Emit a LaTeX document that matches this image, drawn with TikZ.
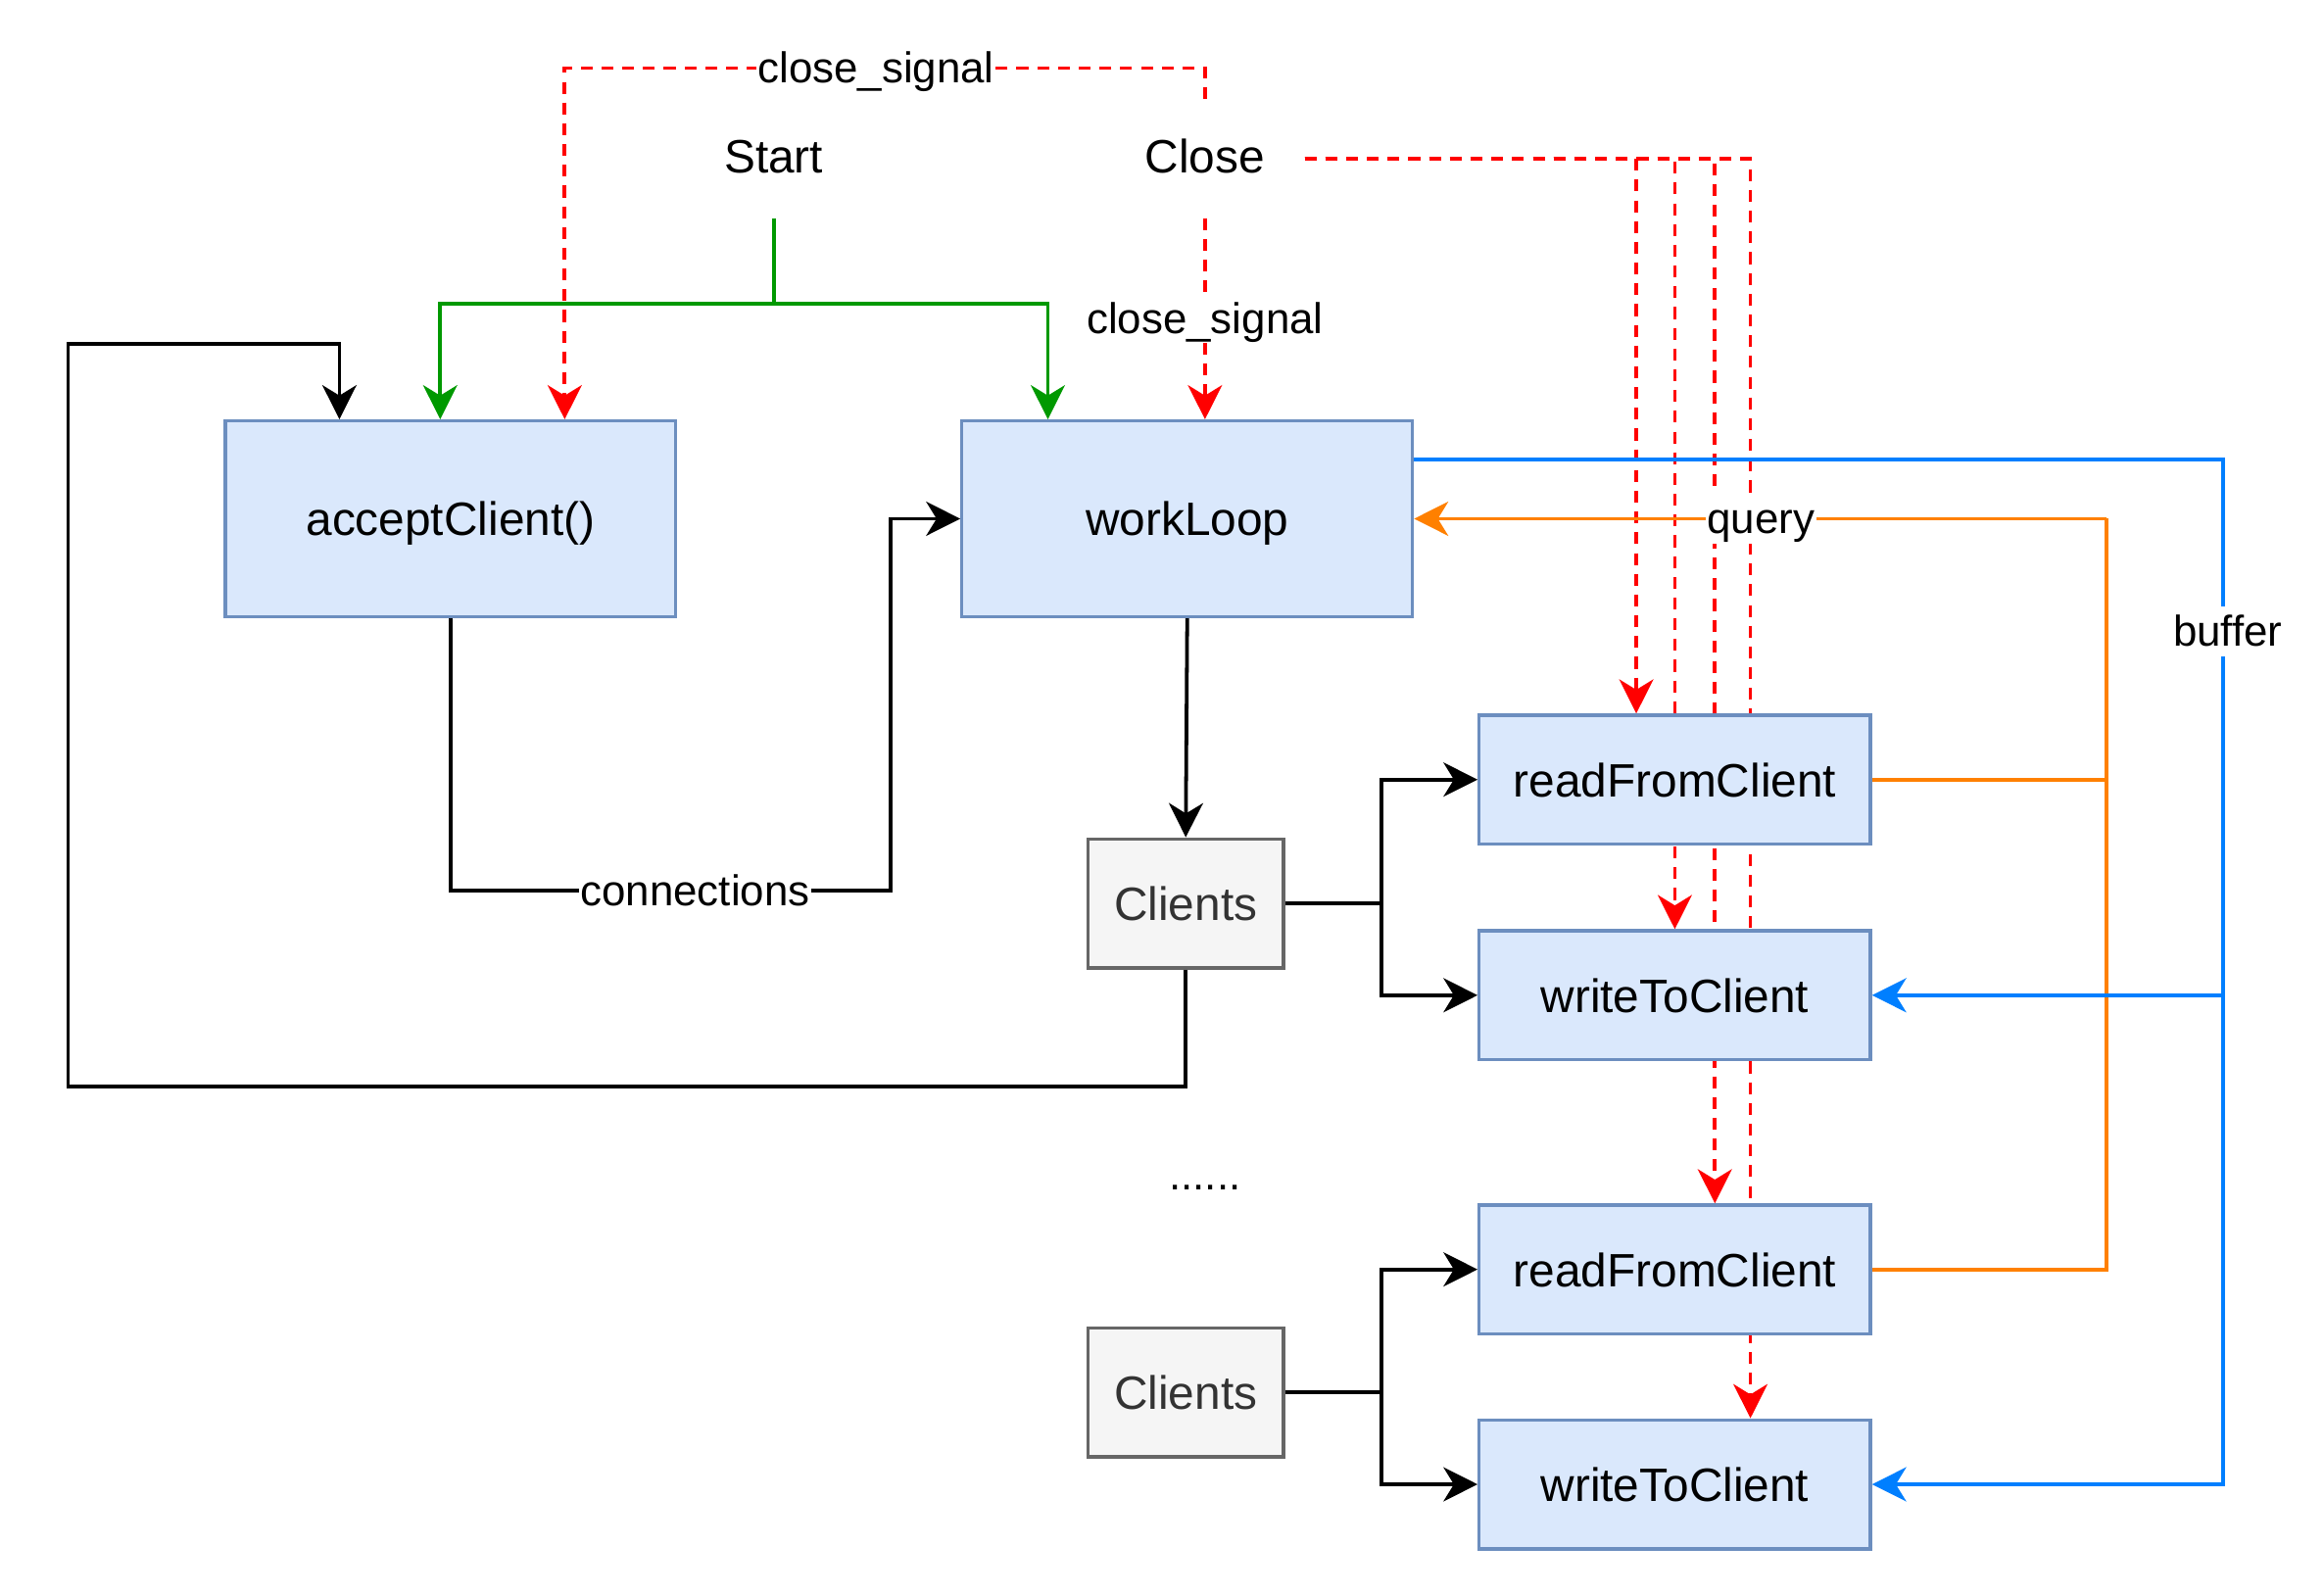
\documentclass[tikz,border=0pt]{standalone}
\usepackage{fontspec}
\setmainfont{Liberation Sans}
\usetikzlibrary{arrows.meta,calc}
\pgfdeclarelayer{bg}
\pgfsetlayers{bg,main}
\definecolor{boxfill}{HTML}{DAE8FC}
\definecolor{boxline}{HTML}{6C8EBF}
\definecolor{grayfill}{HTML}{F5F5F5}
\definecolor{grayline}{HTML}{666666}
\definecolor{graytext}{HTML}{333333}
\definecolor{sgreen}{HTML}{009900}
\definecolor{sred}{HTML}{FF0000}
\definecolor{sorange}{HTML}{FF8000}
\definecolor{sblue}{HTML}{007FFF}
\begin{document}
\begin{tikzpicture}[x=1pt,y=-1pt,
  tip/.style={-{Stealth[length=23pt,width=23pt,inset=7pt]}},
  conn/.style={line width=2.5pt},
  gline/.style={conn,draw=sgreen,color=sgreen},
  rdash/.style={conn,draw=sred,color=sred,dash pattern=on 8pt off 6pt},
  oline/.style={conn,draw=sorange,color=sorange},
  bline/.style={conn,draw=sblue,color=sblue},
  kline/.style={conn,draw=black},
  nodefont/.style={font=\fontsize{31.6}{38}\selectfont,text height=23pt,text depth=0pt},
  bigbox/.style={nodefont,draw=boxline,fill=boxfill,line width=2.2pt,minimum width=304pt,minimum height=132pt,inner sep=0pt},
  smallbox/.style={nodefont,draw=boxline,fill=boxfill,line width=2.2pt,minimum width=264pt,minimum height=87pt,inner sep=0pt},
  graybox/.style={nodefont,draw=grayline,fill=grayfill,text=graytext,line width=2.2pt,minimum width=132pt,minimum height=87pt,inner sep=0pt},
  txt/.style={nodefont,minimum width=134pt,minimum height=84pt,inner sep=0pt},
  lbl/.style={fill=white,inner sep=1pt,text height=25.5pt,text depth=5.8pt,font=\fontsize{29}{34}\selectfont},
  plainlbl/.style={inner sep=1pt,font=\fontsize{29}{34}\selectfont}]
\useasboundingbox (0,0) rectangle (1568,1076);

% nodes
\node[bigbox] (acc) at (304,350) {acceptClient()};
\node[bigbox] (wl) at (801,350) {workLoop};
\node[smallbox] (r1) at (1130,526) {readFromClient};
\node[smallbox] (w1) at (1130,671.5) {writeToClient};
\node[smallbox] (r2) at (1130,856.5) {readFromClient};
\node[smallbox] (w2) at (1130,1001.5) {writeToClient};
\node[graybox] (c1) at (800,609.5) {Clients};
\node[graybox] (c2) at (800,939.5) {Clients};
\node[txt] (start) at (522,105) {Start};
\node[txt] (close) at (813,105) {Close};
\node[plainlbl] (dots) at (813,801) {......};

% routing coordinates
\coordinate (gsplit) at (522,205);
\coordinate (rtop) at (813,46);
\coordinate (oq) at (1421,350);
\coordinate (bx) at (1500,0);
\coordinate (bstart) at ($(wl.north east)+(0,27)$);
\coordinate (sx) at (932,0);
\coordinate (cbot) at (800,733);
\coordinate (lcorner) at (46,232);
\coordinate (cn1) at (304,601);
\coordinate (cn2) at (601,601);

\begin{pgfonlayer}{bg}
% green
\draw[gline,tip] (start.south) -- (gsplit) -| ($(acc.north)+(-7,0)$);
\draw[gline,tip] (gsplit) -| ($(wl.north)+(-94,0)$);
% red dashed
\draw[rdash,tip] ($(close.north)+(0,4)$) -- (rtop) -| ($(acc.north)+(77,0)$);
\draw[rdash,tip] (close.south) -- ($(wl.north)+(12,0)$);
\draw[rdash,tip] ($(close.east)+(0,2)$) -| ($(r1.north)+(-26,0)$);
\draw[rdash,tip] ($(close.east)+(0,2)$) -| (w1.north);
\draw[rdash,tip] ($(close.east)+(0,2)$) -| ($(r2.north)+(27,0)$);
\draw[rdash,tip] ($(close.east)+(0,2)$) -| ($(w2.north)+(51,0)$);
% orange
\draw[oline] (r1.east) -| (oq);
\draw[oline] (r2.east) -| (oq);
\draw[oline,tip] (oq) -- (wl.east);
% blue
\draw[bline,tip] (bstart) -- (bstart -| bx) |- (w2.east);
\draw[bline,tip] (w1.east -| bx) -- (w1.east);
% black
\draw[kline,tip] (acc.south) -- (cn1) -- (cn2) |- (wl.west);
\draw[kline,tip] (wl.south) -- (c1.north);
\draw[kline,tip] (c1.east) -- (c1.east -| sx) |- (r1.west);
\draw[kline,tip] (c1.east -| sx) |- (w1.west);
\draw[kline,tip] (c2.east) -- (c2.east -| sx) |- (r2.west);
\draw[kline,tip] (c2.east -| sx) |- (w2.west);
\draw[kline,tip] (c1.south) -- (cbot) -| (lcorner) -| ($(acc.north)+(-75,0)$);
\end{pgfonlayer}

% labels
\node[lbl] at (591,46) {close\_signal};
\node[lbl] at (813,215) {close\_signal};
\node[lbl] at (469,601) {connections};
\node[lbl] at (1188,350) {query};
\node[lbl] at (1503,426) {buffer};
\end{tikzpicture}
\end{document}
